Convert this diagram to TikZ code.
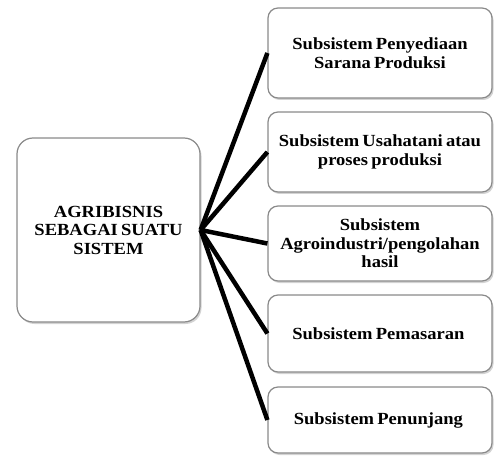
\documentclass[tikz,border=0pt]{standalone}
\usepackage{fontspec}
\setmainfont[FakeStretch=1.09,WordSpace=0.7]{Liberation Serif}
\usetikzlibrary{shadows}
\definecolor{agrgray}{HTML}{8A8A8A}

\begin{document}
\begin{tikzpicture}[
    x=1pt,y=1pt,
    font=\fontsize{17}{18.5}\selectfont\bfseries,
    mainbox/.style={
        draw=agrgray,
        fill=white,
        rounded corners=16pt,
        minimum width=183pt,
        minimum height=184pt,
        align=center,
        line width=1.2pt,
        drop shadow={shadow xshift=1.5pt,shadow yshift=-2pt,opacity=0.35}
    },
    subbox/.style={
        draw=agrgray,
        fill=white,
        rounded corners=10pt,
        minimum width=224pt,
        align=center,
        line width=1.2pt,
        drop shadow={shadow xshift=1.5pt,shadow yshift=-2pt,opacity=0.35}
    },
    link/.style={line width=4.5pt,black}
]
\useasboundingbox (0,0) rectangle (494,455);

% Whole system
\node[mainbox] (sistem) at (108.5,225) {
    AGRIBISNIS\\
    SEBAGAI SUATU\\
    SISTEM
};

% Subsystems
\node[subbox,minimum height=90pt] (sarana) at (380,402) {
    Subsistem Penyediaan\\
    Sarana Produksi
};
\node[subbox,minimum height=80pt] (usahatani) at (380,303) {
    Subsistem Usahatani atau\\
    proses produksi
};
\node[subbox,minimum height=75pt] (olahan) at (380,211.5) {
    Subsistem\\
    Agroindustri/pengolahan\\
    hasil
};
\node[subbox,minimum height=77pt] (pasar) at (380,121.5) {
    Subsistem Pemasaran
};
\node[subbox,minimum height=66pt] (penunjang) at (380,35) {
    Subsistem Penunjang
};

% Links from the system to each subsystem
\foreach \sub in {sarana,usahatani,olahan,pasar,penunjang}
    \draw[link] (sistem.east) -- (\sub.west);

\end{tikzpicture}
\end{document}
